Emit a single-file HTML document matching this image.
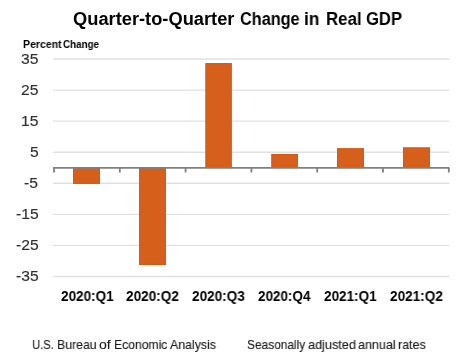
<!DOCTYPE html>
<html><head><meta charset="utf-8">
<style>
html,body{margin:0;padding:0;background:#fff;}
body{width:458px;height:358px;position:relative;overflow:hidden;font-family:"Liberation Sans",sans-serif;}
.w{position:absolute;white-space:nowrap;line-height:1;transform-origin:0 0;will-change:transform;}
svg{position:absolute;left:0;top:0;}
</style></head><body>
<svg width="458" height="358">
<g stroke="#e1e1e1" stroke-width="1.33"><line x1="53" y1="59.00" x2="449.5" y2="59.00"/><line x1="53" y1="90.07" x2="449.5" y2="90.07"/><line x1="53" y1="121.14" x2="449.5" y2="121.14"/><line x1="53" y1="152.21" x2="449.5" y2="152.21"/><line x1="53" y1="183.28" x2="449.5" y2="183.28"/><line x1="53" y1="214.35" x2="449.5" y2="214.35"/><line x1="53" y1="245.42" x2="449.5" y2="245.42"/><line x1="53" y1="276.49" x2="449.5" y2="276.49"/></g>
<g fill="#d65f1c"><rect x="73.00" y="168.00" width="27.00" height="15.85"/><rect x="73.50" y="168.50" width="26.00" height="14.85" fill="none" stroke="#d45b14" stroke-width="1"/><rect x="139.00" y="168.00" width="27.00" height="96.94"/><rect x="139.50" y="168.50" width="26.00" height="95.94" fill="none" stroke="#d45b14" stroke-width="1"/><rect x="205.50" y="63.14" width="26.20" height="104.86"/><rect x="206.00" y="63.64" width="25.20" height="103.86" fill="none" stroke="#d45b14" stroke-width="1"/><rect x="271.40" y="154.02" width="26.60" height="13.98"/><rect x="271.90" y="154.52" width="25.60" height="12.98" fill="none" stroke="#d45b14" stroke-width="1"/><rect x="337.00" y="148.30" width="27.00" height="19.70"/><rect x="337.50" y="148.80" width="26.00" height="18.70" fill="none" stroke="#d45b14" stroke-width="1"/><rect x="403.00" y="147.49" width="27.00" height="20.51"/><rect x="403.50" y="147.99" width="26.00" height="19.51" fill="none" stroke="#d45b14" stroke-width="1"/></g>
<g stroke="#808080" stroke-width="1.8" fill="none"><line x1="53" y1="167.9" x2="449.5" y2="167.9"/><line x1="54.00" y1="168.0" x2="54.00" y2="172.5"/><line x1="119.80" y1="168.0" x2="119.80" y2="172.5"/><line x1="185.60" y1="168.0" x2="185.60" y2="172.5"/><line x1="251.40" y1="168.0" x2="251.40" y2="172.5"/><line x1="317.20" y1="168.0" x2="317.20" y2="172.5"/><line x1="383.00" y1="168.0" x2="383.00" y2="172.5"/><line x1="448.80" y1="168.0" x2="448.80" y2="172.5"/></g>
</svg>
<span class="w" style="left:72.97px;top:10.39px;font-size:18.12px;font-weight:bold;color:#000;transform:scaleX(1.0091)">Quarter-to-Quarter</span>
<span class="w" style="left:239.85px;top:10.39px;font-size:18.12px;font-weight:bold;color:#000;transform:scaleX(0.8982)">Change</span>
<span class="w" style="left:304.09px;top:10.39px;font-size:18.12px;font-weight:bold;color:#000;transform:scaleX(0.9578)">in</span>
<span class="w" style="left:326.10px;top:10.39px;font-size:18.12px;font-weight:bold;color:#000;transform:scaleX(0.9307)">Real</span>
<span class="w" style="left:365.54px;top:10.39px;font-size:18.12px;font-weight:bold;color:#000;transform:scaleX(0.9169)">GDP</span>
<span class="w" style="left:22.52px;top:38.74px;font-size:10.72px;font-weight:bold;color:#000;transform:scaleX(0.9818)">Percent</span>
<span class="w" style="left:63.11px;top:38.74px;font-size:10.72px;font-weight:bold;color:#000;transform:scaleX(0.9182)">Change</span>
<span class="w" style="left:21.31px;top:51.60px;font-size:14.80px;color:#303030;-webkit-text-stroke:0.15px #303030;transform:scaleX(1.0600)">35</span>
<span class="w" style="left:20.91px;top:82.67px;font-size:14.80px;color:#303030;-webkit-text-stroke:0.15px #303030;transform:scaleX(1.0600)">25</span>
<span class="w" style="left:21.11px;top:113.74px;font-size:14.80px;color:#303030;-webkit-text-stroke:0.15px #303030;transform:scaleX(1.0600)">15</span>
<span class="w" style="left:29.62px;top:144.81px;font-size:14.80px;color:#303030;-webkit-text-stroke:0.15px #303030;transform:scaleX(1.0600)">5</span>
<span class="w" style="left:24.04px;top:175.88px;font-size:14.80px;color:#303030;-webkit-text-stroke:0.15px #303030;transform:scaleX(1.0600)">-5</span>
<span class="w" style="left:15.86px;top:206.95px;font-size:14.80px;color:#303030;-webkit-text-stroke:0.15px #303030;transform:scaleX(1.0600)">-15</span>
<span class="w" style="left:15.86px;top:238.02px;font-size:14.80px;color:#303030;-webkit-text-stroke:0.15px #303030;transform:scaleX(1.0600)">-25</span>
<span class="w" style="left:15.66px;top:269.09px;font-size:14.80px;color:#303030;-webkit-text-stroke:0.15px #303030;transform:scaleX(1.0600)">-35</span>
<span class="w" style="left:60.53px;top:290.07px;font-size:13.77px;font-weight:bold;color:#000;transform:scaleX(0.9823)">2020:Q1</span>
<span class="w" style="left:126.42px;top:290.07px;font-size:13.77px;font-weight:bold;color:#000;transform:scaleX(0.9862)">2020:Q2</span>
<span class="w" style="left:192.33px;top:290.07px;font-size:13.77px;font-weight:bold;color:#000;transform:scaleX(0.9849)">2020:Q3</span>
<span class="w" style="left:258.23px;top:290.07px;font-size:13.77px;font-weight:bold;color:#000;transform:scaleX(0.9772)">2020:Q4</span>
<span class="w" style="left:324.13px;top:290.07px;font-size:13.77px;font-weight:bold;color:#000;transform:scaleX(0.9823)">2021:Q1</span>
<span class="w" style="left:390.02px;top:290.07px;font-size:13.77px;font-weight:bold;color:#000;transform:scaleX(0.9862)">2021:Q2</span>
<span class="w" style="left:32.36px;top:337.93px;font-size:13.33px;font-weight:normal;color:#1a1a1a;-webkit-text-stroke:0.12px #1a1a1a;transform:scaleX(0.8427)">U.S.</span>
<span class="w" style="left:56.92px;top:337.93px;font-size:13.33px;font-weight:normal;color:#1a1a1a;-webkit-text-stroke:0.12px #1a1a1a;transform:scaleX(0.9229)">Bureau</span>
<span class="w" style="left:98.74px;top:337.93px;font-size:13.33px;font-weight:normal;color:#1a1a1a;-webkit-text-stroke:0.12px #1a1a1a;transform:scaleX(1.0566)">of</span>
<span class="w" style="left:113.63px;top:337.93px;font-size:13.33px;font-weight:normal;color:#1a1a1a;-webkit-text-stroke:0.12px #1a1a1a;transform:scaleX(0.9119)">Economic</span>
<span class="w" style="left:169.54px;top:337.93px;font-size:13.33px;font-weight:normal;color:#1a1a1a;-webkit-text-stroke:0.12px #1a1a1a;transform:scaleX(0.9253)">Analysis</span>
<span class="w" style="left:246.56px;top:337.93px;font-size:13.33px;font-weight:normal;color:#1a1a1a;-webkit-text-stroke:0.12px #1a1a1a;transform:scaleX(0.8932)">Seasonally</span>
<span class="w" style="left:307.53px;top:337.93px;font-size:13.33px;font-weight:normal;color:#1a1a1a;-webkit-text-stroke:0.12px #1a1a1a;transform:scaleX(0.9523)">adjusted</span>
<span class="w" style="left:358.44px;top:337.93px;font-size:13.33px;font-weight:normal;color:#1a1a1a;-webkit-text-stroke:0.12px #1a1a1a;transform:scaleX(0.9394)">annual</span>
<span class="w" style="left:398.49px;top:337.93px;font-size:13.33px;font-weight:normal;color:#1a1a1a;-webkit-text-stroke:0.12px #1a1a1a;transform:scaleX(0.9375)">rates</span>
</body></html>
